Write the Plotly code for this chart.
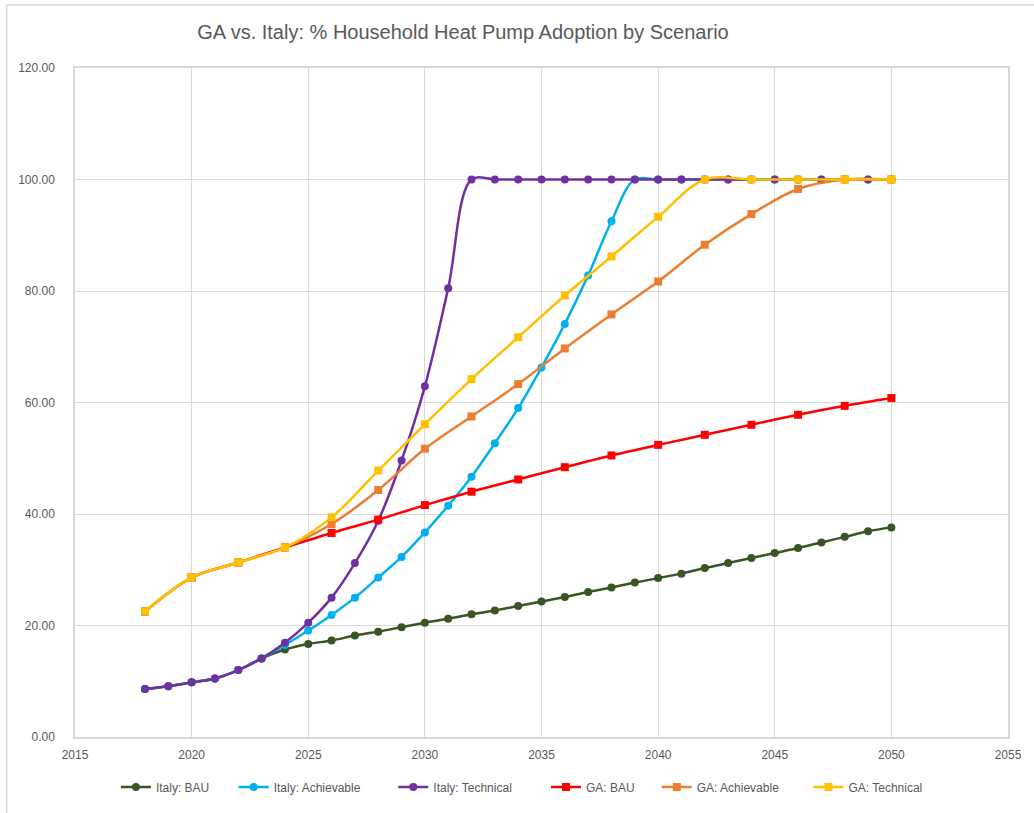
import plotly.graph_objects as go

# ---- data -------------------------------------------------------------
italy_years = list(range(2018, 2051))
ga_years = list(range(2018, 2051, 2))

italy_bau = [8.6, 9.1, 9.8, 10.5, 12.0, 14.1, 15.7, 16.7, 17.3, 18.2, 18.9,
             19.7, 20.5, 21.2, 22.0, 22.7, 23.5, 24.3, 25.1, 26.0, 26.8,
             27.7, 28.5, 29.3, 30.3, 31.2, 32.1, 33.0, 33.9, 34.9, 35.9,
             36.9, 37.6]
italy_achievable = [8.6, 9.1, 9.8, 10.5, 12.0, 14.1, 16.5, 19.1, 21.9, 25.0,
                    28.6, 32.3, 36.7, 41.5, 46.7, 52.7, 59.0, 66.3, 74.1,
                    82.8, 92.5, 100, 100, 100, 100, 100, 100, 100, 100, 100,
                    100, 100, 100]
italy_technical = [8.6, 9.1, 9.8, 10.5, 12.0, 14.1, 16.9, 20.5, 25.0, 31.2,
                   38.8, 49.6, 62.9, 80.5, 100, 100, 100, 100, 100, 100, 100,
                   100, 100, 100, 100, 100, 100, 100, 100, 100, 100, 100, 100]

ga_bau = [22.5, 28.6, 31.3, 34.0, 36.6, 39.0, 41.6, 44.0, 46.2, 48.4, 50.5,
          52.4, 54.2, 56.0, 57.8, 59.4, 60.8]
ga_achievable = [22.5, 28.6, 31.3, 34.0, 38.2, 44.3, 51.7, 57.5, 63.3, 69.7,
                 75.8, 81.7, 88.3, 93.8, 98.3, 100, 100]
ga_technical = [22.5, 28.6, 31.3, 34.0, 39.4, 47.8, 56.1, 64.2, 71.7, 79.2,
                86.2, 93.3, 100, 100, 100, 100, 100]

series_names = ["Italy: BAU", "Italy: Achievable", "Italy: Technical",
                "GA: BAU", "GA: Achievable", "GA: Technical"]

# ---- styling ----------------------------------------------------------
W, H = 1034, 813
PL, PR, PT, PB = 75, 1010, 68, 737          # plot area in pixels
colors = ["#375623", "#00B0F0", "#7030A0", "#FF0000", "#ED7D31", "#FFC000"]
symbols = ["circle", "circle", "circle", "square", "square", "square"]
legend_left_px = [116, 234, 394, 547, 658, 810]
legend_mid_px = 787
TEXT = "#595959"
GRID = "#D9D9D9"

def px_to_paper_x(px):
    return (px - PL) / (PR - PL)

def px_to_paper_y(py):
    return (PB - py) / (PB - PT)

series = [
    (italy_years, italy_bau),
    (italy_years, italy_achievable),
    (italy_years, italy_technical),
    (ga_years, ga_bau),
    (ga_years, ga_achievable),
    (ga_years, ga_technical),
]

fig = go.Figure()
for i, ((xs, ys), name) in enumerate(zip(series, series_names)):
    fig.add_trace(go.Scatter(
        x=xs, y=ys, name=name, mode="lines+markers",
        line=dict(color=colors[i], width=2.5, shape="spline", smoothing=1),
        marker=dict(color=colors[i], size=8, symbol=symbols[i]),
        legend="legend" if i == 0 else f"legend{i + 1}",
        hoverinfo="x+y+name",
    ))

legend_font = dict(family="Liberation Sans, Arial, sans-serif", size=12, color=TEXT)
legends = {}
for i, lx in enumerate(legend_left_px):
    key = "legend" if i == 0 else f"legend{i + 1}"
    legends[key] = dict(
        x=px_to_paper_x(lx), xanchor="left",
        y=px_to_paper_y(legend_mid_px), yanchor="middle",
        orientation="h", font=legend_font, bgcolor="rgba(0,0,0,0)",
        borderwidth=0, itemwidth=30,
    )

fig.update_layout(
    width=W, height=H,
    margin=dict(l=PL, r=W - PR, t=PT, b=H - PB, pad=0),
    paper_bgcolor="white", plot_bgcolor="white",
    showlegend=True,
    title=dict(
        text="GA vs. Italy: % Household Heat Pump Adoption by Scenario",
        x=463 / W, xanchor="center", xref="container",
        y=1 - 32 / H, yanchor="middle", yref="container",
        font=dict(family="Liberation Sans, Arial, sans-serif",
                  size=20, color=TEXT),
    ),
    xaxis=dict(
        range=[2015, 2055], tick0=2015, dtick=5, tickformat="d",
        showgrid=True, gridcolor=GRID, gridwidth=1,
        showline=True, linecolor=GRID, linewidth=1.5, mirror=True,
        zeroline=False, ticks="",
        tickfont=dict(family="Liberation Sans, Arial, sans-serif", size=12, color=TEXT),
        ticklabelstandoff=6,
    ),
    yaxis=dict(
        range=[0, 120], tick0=0, dtick=20, tickformat=".2f",
        showgrid=True, gridcolor=GRID, gridwidth=1,
        showline=True, linecolor=GRID, linewidth=1.5, mirror=True,
        zeroline=False, ticks="",
        tickfont=dict(family="Liberation Sans, Arial, sans-serif", size=12, color=TEXT),
        ticklabelstandoff=16,
    ),
    shapes=[dict(
        type="rect", xref="paper", yref="paper",
        x0=px_to_paper_x(6.5), x1=px_to_paper_x(W + 5),
        y0=px_to_paper_y(H + 5), y1=px_to_paper_y(5),
        line=dict(color=GRID, width=1.5), fillcolor="rgba(0,0,0,0)",
        layer="below",
    )],
    **legends,
)

fig.write_html("out.html")
